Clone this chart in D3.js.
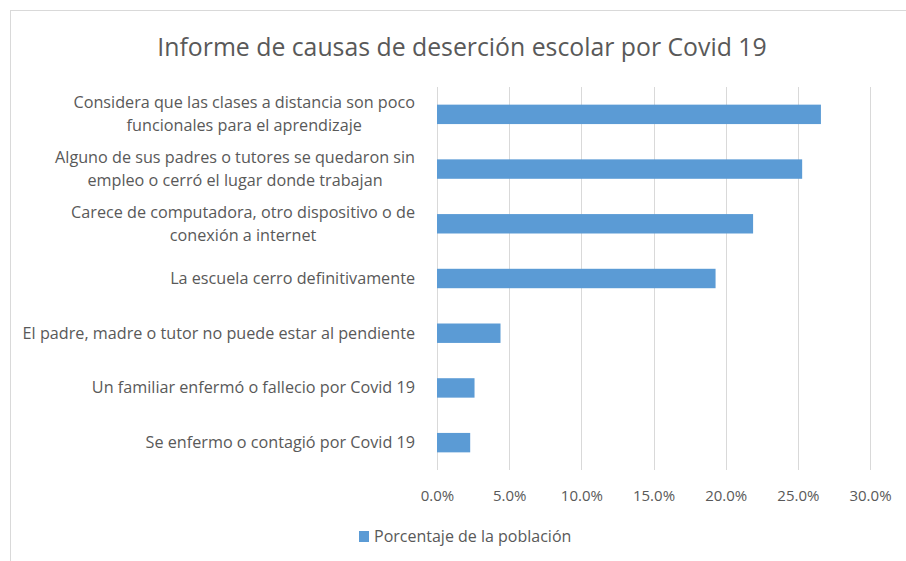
<!DOCTYPE html>
<html>
<head>
<meta charset="utf-8">
<script src="https://cdn.jsdelivr.net/npm/d3@7"></script>
<style>
  body { margin: 0; background: #fff; }
  text { font-family: "Open Sans", sans-serif; fill: #595959; }
</style>
</head>
<body>
<div id="chart"></div>
<script>
// data, top bar first
var categories = [
  ["Considera que las clases a distancia son poco", "funcionales para el aprendizaje"],
  ["Alguno de sus padres o tutores se quedaron sin", "empleo o cerró el lugar donde trabajan"],
  ["Carece de computadora, otro dispositivo o de", "conexión a internet"],
  ["La escuela cerro definitivamente"],
  ["El padre, madre o tutor no puede estar al pendiente"],
  ["Un familiar enfermó o fallecio por Covid 19"],
  ["Se enfermo o contagió por Covid 19"]
];
var values = [26.6, 25.3, 21.9, 19.3, 4.4, 2.6, 2.3];
var ticks = [0, 5, 10, 15, 20, 25, 30];
var title = "Informe de causas de deserción escolar por Covid 19";
var seriesName = "Porcentaje de la población";

var width = 906, height = 561;
var margin = { top: 87, right: 36, bottom: 91, left: 437 };

var svg = d3.select("#chart")
  .append("svg")
  .attr("width", width)
  .attr("height", height);

// chart border
svg.append("rect")
  .attr("x", 10.5)
  .attr("y", 10.5)
  .attr("width", 1000)
  .attr("height", 1000)
  .attr("fill", "none")
  .attr("stroke", "#d9d9d9");

var x = d3.scaleLinear()
  .domain([0, 30])
  .range([margin.left, width - margin.right]);

var y = d3.scaleBand()
  .domain(d3.range(categories.length))
  .range([margin.top, height - margin.bottom])
  .paddingInner(0.645)
  .paddingOuter(0.3225);

// title
svg.append("text")
  .attr("x", 462)
  .attr("y", 56)
  .attr("text-anchor", "middle")
  .style("font-size", "24.8px")
  .text(title);

// gridlines
svg.append("g")
  .selectAll("line")
  .data(ticks)
  .enter()
  .append("line")
  .attr("x1", function(d) { return Math.round(x(d)) + 0.5; })
  .attr("x2", function(d) { return Math.round(x(d)) + 0.5; })
  .attr("y1", margin.top)
  .attr("y2", height - margin.bottom)
  .attr("stroke", "#d9d9d9")
  .attr("stroke-width", 1);

// bars
svg.append("g")
  .selectAll("rect")
  .data(values)
  .enter()
  .append("rect")
  .attr("x", x(0))
  .attr("y", function(d, i) { return y(i); })
  .attr("width", function(d) { return x(d) - x(0); })
  .attr("height", y.bandwidth())
  .attr("fill", "#5b9bd5");

// x axis labels
var xAxis = svg.append("g")
  .attr("transform", "translate(0," + (height - margin.bottom) + ")")
  .call(d3.axisBottom(x).tickValues(ticks).tickSize(0).tickPadding(20)
    .tickFormat(function(d) { return d3.format(".1f")(d) + "%"; }));
xAxis.select(".domain").remove();
xAxis.selectAll("text")
  .style("font-size", "15px")
  .style("font-family", "'Open Sans', sans-serif")
  .attr("fill", "#595959");

// category labels
var labels = svg.append("g")
  .selectAll("text")
  .data(categories)
  .enter()
  .append("text")
  .attr("text-anchor", "middle")
  .style("font-size", "16.2px");

labels.each(function(lines, i) {
  var t = d3.select(this);
  var cy = y(i) + y.bandwidth() / 2;
  lines.forEach(function(line, j) {
    t.append("tspan")
      .attr("x", 0)
      .attr("y", cy + (j - (lines.length - 1) / 2) * 23 + 5.5)
      .text(line);
  });
  // right-align the block, centre the lines inside it
  var w = this.getBBox().width;
  t.selectAll("tspan").attr("x", 415 - w / 2);
});

// legend
var legend = svg.append("g").attr("transform", "translate(359,531)");
legend.append("rect")
  .attr("width", 10)
  .attr("height", 11)
  .attr("fill", "#5b9bd5");
legend.append("text")
  .attr("x", 15)
  .attr("y", 11)
  .style("font-size", "16px")
  .text(seriesName);
</script>
</body>
</html>
